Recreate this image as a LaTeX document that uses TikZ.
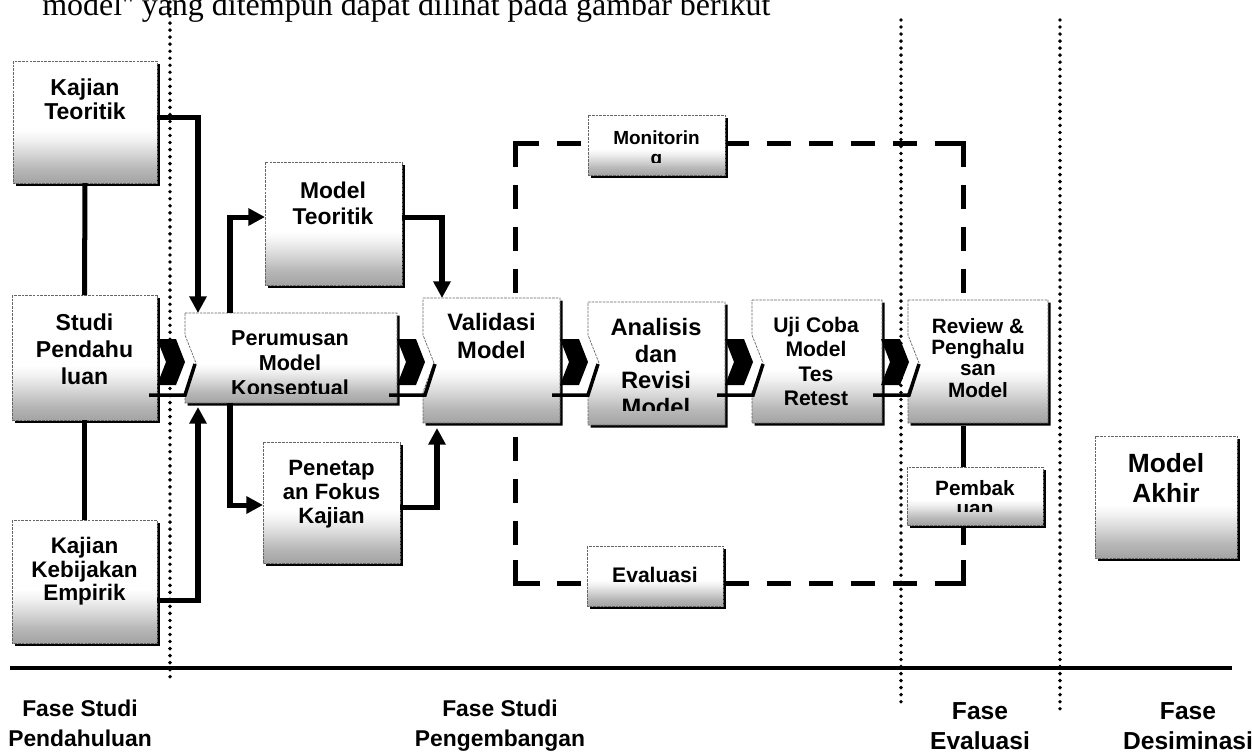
\documentclass[tikz,border=0pt]{standalone}
\usepackage{fontspec}
\setmainfont{Liberation Sans}
\newfontfamily\serifrm{Liberation Serif}
\usetikzlibrary{calc,fit,arrows.meta}
\pgfdeclareverticalshading{boxshade}{100bp}{color(0bp)=(black!38); color(25bp)=(black!36); color(31bp)=(black!28); color(37bp)=(black!16); color(43bp)=(black!5); color(47bp)=(white); color(100bp)=(white)}
\newcommand\fs[2]{\fontsize{#1pt}{#2pt}\selectfont\bfseries}
\tikzset{
  conn/.style={line width=2.85pt, draw=black},
  arr/.style={conn, -{Triangle[length=9.5pt,width=9.5pt]}},
  dotline/.style={line width=2.2pt, dash pattern=on 0pt off 4pt, line cap=round, draw=black},
  dashside/.style={line width=2.85pt, dash pattern=on 13.7pt off 10.2pt, draw=black},
  dashcorner/.style={line width=2.85pt, draw=black, line join=miter},
  boxedge/.style={draw=black!60, line width=0.4pt, dash pattern=on 1.5pt off 0.6pt},
  lbl/.style={align=center, inner sep=0pt, anchor=north},
  holder/.style={inner sep=0pt, outer sep=0pt, draw=none},
  barline/.style={line width=2pt, draw=black},
}
\newcommand\rbox[5]{%
  \fill[black] (#2+2.5,#3+2.5) rectangle (#4+2.5,#5+2.5);
  \shade[shading=boxshade] (#2,#3) rectangle (#4,#5);
  \draw[boxedge] (#2,#3) rectangle (#4,#5);
  \node[holder, fit={(#2,#3) (#4,#5)}] (#1) {};}
\newcommand\nbox[5]{%
  \fill[black] (#2+2.5,#3+2.5) -- (#4+2.5,#3+2.5) -- (#4+2.5,#5+2.5) -- (#2+2.5,#5+2.5) -- (#2+2.5,394.5) -- (#2+13.5,365.5) -- (#2+2.5,337.5) -- cycle;
  \shade[shading=boxshade] (#2,#3) -- (#4,#3) -- (#4,#5) -- (#2,#5) -- (#2,392) -- (#2+11,363) -- (#2,335) -- cycle;
  \draw[boxedge] (#2,#3) -- (#4,#3) -- (#4,#5) -- (#2,#5) -- (#2,392) -- (#2+11,363) -- (#2,335) -- cycle;
  \node[holder, fit={(#2,#3) (#4,#5)}] (#1) {};}
\newcommand\chev[2]{%
  \fill[black] (#2,339) -- (#2+19,339) -- (#2+28,362) -- (#2+19,385) -- (#2,385) -- (#2+9,362) -- cycle;
  \draw[barline] (#2-8,395) -- (#2+28,395) -- (#2+38,364);
  \coordinate (#1) at (#2+14,362);}
\newcommand\btxt[9]{%
  \begin{scope}\clip (#2,#3) rectangle (#4,#5);
  \node[lbl, font={#8}] (#1) at (#6,#7) {#9};\end{scope}}
\begin{document}
\begin{tikzpicture}[x=0.02cm,y=-0.02cm]
\useasboundingbox (0,0) rectangle (1252,752);
% intro line (cut at the top)
\node[anchor=base west, inner sep=0pt, font=\serifrm\fontsize{18.2pt}{20pt}\selectfont] (intro) at (42,15) {model'' yang ditempuh dapat dilihat pada gambar berikut};
% dotted phase separators
\coordinate (d1a) at (170,2);   \coordinate (d1b) at (170,683);
\coordinate (d2a) at (901,20);  \coordinate (d2b) at (901,708);
\coordinate (d3a) at (1060,20); \coordinate (d3b) at (1060,710);
\draw[dotline] (d1a) -- (d1b);
\draw[dotline] (d2a) -- (d2b);
\draw[dotline] (d3a) -- (d3b);
% dashed loop
\coordinate (dTL) at (515,143); \coordinate (dTR) at (963,143);
\coordinate (dBR) at (963,583); \coordinate (dBL) at (515,583);
\draw[dashside] (dTL) -- (dTR);
\draw[dashside] (dBL) -- (dBR);
\draw[dashside] (dTL) -- (dBL);
\draw[dashside] (dTR) -- (dBR);
\draw[dashcorner] ($(dTL)+(0,23)$) -- (dTL) -- ($(dTL)+(24,0)$);
\draw[dashcorner] ($(dTR)+(-24,0)$) -- (dTR) -- ($(dTR)+(0,23)$);
\draw[dashcorner] ($(dBR)+(0,-23)$) -- (dBR) -- ($(dBR)+(-25,0)$);
\draw[dashcorner] ($(dBL)+(0,-23)$) -- (dBL) -- ($(dBL)+(25,0)$);
% baseline of phases
\coordinate (hl1) at (10,668); \coordinate (hl2) at (1232,668);
\draw[line width=2.3pt] (hl1) -- (hl2);
% boxes
\rbox{KT}{13}{61}{157}{183}
\rbox{SP}{12}{295}{157}{420}
\rbox{KK}{12}{520}{157}{643}
\rbox{MT}{265}{162}{402}{285}
\rbox{PF}{263}{442}{400}{563}
\rbox{MO}{588}{115}{725}{175}
\rbox{EV}{587}{546}{723}{606}
\rbox{PB}{907}{467}{1043}{525}
\rbox{MA}{1095}{436}{1237}{558}
\nbox{PM}{185}{313}{397}{403}
\nbox{VM}{423}{298}{560}{423}
\nbox{AR}{588}{302}{725}{425}
\nbox{UC}{752}{300}{882}{423}
\nbox{RP}{908}{300}{1048}{423}
% chevrons
\chev{c1}{157}
\chev{c2}{397}
\chev{c3}{560}
\chev{c4}{725}
\chev{c5}{881}
% connectors
\draw[conn] (KT.south) -- (SP.north);
\draw[conn] (SP.south) -- (KK.north);
\draw[arr] ($(KT.east)+(0,-5)$) -| ($(PM.north west)+(13,0)$);
\draw[arr] ($(KK.east)+(0,18.5)$) -| ($(PM.south west)+(13,4)$);
\draw[arr] ($(PM.north west)+(45,0)$) |- ($(MT.west)+(0,-6.5)$);
\draw[arr] ($(PM.south west)+(45,0)$) |- ($(PF.west)+(0,2.5)$);
\draw[arr] ($(MT.east)+(0,-6.5)$) -| ($(VM.north west)+(19,0)$);
\draw[arr] ($(PF.east)+(0,4.5)$) -| ($(VM.south west)+(14,5)$);
\draw[conn] ($(RP.south west)+(55,2.5)$) -- ($(PB.north west)+(56,0)$);
\draw[conn] ($(PB.east)+(0,2)$) -- ($(PB.east)+(0,2)$ -| MA.west);
% box texts
\btxt{KTt}{13}{61}{157}{171}{85}{78}{\fs{13.1}{13.9}}{Kajian\\Teoritik}
\btxt{SPt}{12}{295}{157}{408}{84.5}{313}{\fs{13.1}{15.4}}{Studi\\Pendahu\\luan}
\btxt{KKt}{12}{520}{157}{631}{84.5}{537}{\fs{12.8}{13.4}}{Kajian\\Kebijakan\\Empirik}
\btxt{MTt}{265}{162}{402}{273}{333}{182}{\fs{13}{14.8}}{Model\\Teoritik}
\btxt{PFt}{263}{442}{400}{551}{331.5}{460}{\fs{12.6}{13.7}}{Penetap\\an Fokus\\Kajian}
\btxt{PMt}{185}{313}{397}{393}{290}{330}{\fs{12.3}{14.2}}{Perumusan\\Model\\Konseptual}
\btxt{VMt}{423}{298}{560}{411}{491.5}{313}{\fs{13.5}{16}}{Validasi\\Model}
\btxt{ARt}{588}{302}{725}{410}{656}{318}{\fs{13.5}{15.2}}{Analisis\\dan\\Revisi\\Model}
\btxt{UCt}{752}{300}{882}{407}{816}{317}{\fs{12}{13.8}}{Uji Coba\\Model\\Tes\\Retest}
\btxt{RPt}{908}{300}{1048}{411}{978}{318}{\fs{11.8}{12.1}}{Review \&\\Penghalu\\san\\Model}
\btxt{MOt}{588}{115}{725}{162}{656.5}{130}{\fs{10.8}{11.4}}{Monitorin\\g}
\btxt{EVt}{587}{546}{723}{594}{655}{567}{\fs{12}{13}}{Evaluasi}
\btxt{PBt}{907}{467}{1043}{511}{975}{480}{\fs{11.8}{11.4}}{Pembak\\uan}
\btxt{MAt}{1095}{436}{1237}{546}{1166}{453}{\fs{15}{17}}{Model\\Akhir}
% phase labels
\node[lbl, font={\fs{13}{17}}] (F1) at (80,700) {Fase Studi\\Pendahuluan};
\node[lbl, font={\fs{13}{17}}] (F2) at (500,700) {Fase Studi\\Pengembangan};
\node[lbl, font={\fs{14}{17}}] (F3) at (980,702) {Fase\\Evaluasi};
\node[lbl, font={\fs{14}{17}}] (F4) at (1188,702) {Fase\\Desiminasi};
\end{tikzpicture}
\end{document}
